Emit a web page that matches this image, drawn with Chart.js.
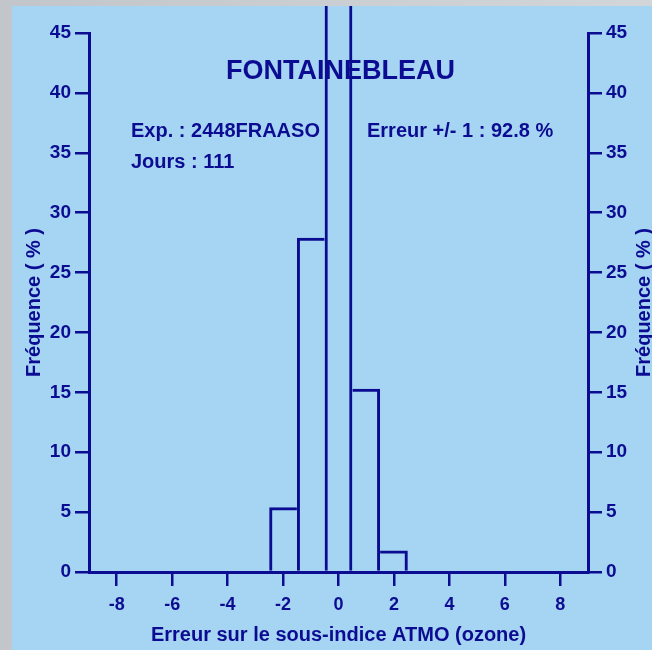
<!DOCTYPE html>
<html>
<head>
<meta charset="utf-8">
<title>FONTAINEBLEAU</title>
<script src="https://cdn.jsdelivr.net/npm/chart.js@4/dist/chart.umd.min.js"></script>
<style>
  html, body { margin: 0; padding: 0; }
  body {
    width: 652px;
    height: 650px;
    overflow: hidden;
    background: linear-gradient(90deg, #c2c6ca, #d3d6d9);
    position: relative;
  }
  #panel {
    position: absolute;
    left: 12px;
    top: 6px;
    width: 640px;
    height: 644px;
    background: #a5d5f2;
  }
</style>
</head>
<body>
<div id="panel"><canvas id="histo"></canvas></div>
<script>
// erreur sur le sous-indice et frequence (%)
const errClasses = [-2, -1, 0, 1, 2];
const frequences = [5.4, 27.9, 49.5, 15.3, 1.8];
const xTicks = [-8, -6, -4, -2, 0, 2, 4, 6, 8];
const yTicks = [0, 5, 10, 15, 20, 25, 30, 35, 40, 45];

const station = "FONTAINEBLEAU";
const infoExp = "Exp. : 2448FRAASO";
const infoErreur = "Erreur +/- 1 : 92.8 %";
const infoJours = "Jours : 111";
const yTitle = "Fréquence ( % )";
const xTitle = "Erreur sur le sous-indice ATMO (ozone)";

const navy = "#0c0c92";
const police = "'Liberation Sans', Arial, sans-serif";
const trait = 3;

Chart.defaults.font.family = police;
Chart.defaults.font.weight = "bold";
Chart.defaults.color = navy;

// un bord commun entre deux barres n'est trace qu'une fois, par la plus haute
function bords(c) {
  const i = c.dataIndex;
  const v = frequences[i];
  const avant = i > 0 ? frequences[i - 1] : -1;
  const apres = i < frequences.length - 1 ? frequences[i + 1] : -1;
  return {
    top: trait,
    bottom: 0,
    left: v >= avant ? trait : 0,
    right: v > apres ? trait : 0,
  };
}

// textes libres (titre, infos, titres des axes y)
const textes = {
  id: "textes",
  afterDraw(chart) {
    const ctx = chart.ctx;
    const area = chart.chartArea;
    const midY = (area.top + area.bottom) / 2;
    ctx.save();
    ctx.fillStyle = navy;
    ctx.textBaseline = "middle";

    ctx.font = "bold 27px " + police;
    ctx.textAlign = "center";
    ctx.fillText(station, (area.left + area.right) / 2 + 2, 66);

    ctx.font = "bold 20px " + police;
    ctx.textAlign = "left";
    ctx.fillText(infoExp, 119, 125);
    ctx.fillText(infoErreur, 355, 125);
    ctx.fillText(infoJours, 119, 156);

    ctx.textAlign = "center";
    ctx.translate(22, midY);
    ctx.rotate(-Math.PI / 2);
    ctx.fillText(yTitle, 0, 0);
    ctx.restore();

    ctx.save();
    ctx.fillStyle = navy;
    ctx.font = "bold 20px " + police;
    ctx.textAlign = "center";
    ctx.textBaseline = "middle";
    ctx.translate(632, midY);
    ctx.rotate(-Math.PI / 2);
    ctx.fillText(yTitle, 0, 0);
    ctx.restore();
  }
};

const axeY = (position, largeur) => ({
  type: "linear",
  position: position,
  min: 0,
  max: 45,
  afterBuildTicks: (scale) => { scale.ticks = yTicks.map(v => ({ value: v })); },
  afterFit: (scale) => { scale.width = largeur; },
  grid: {
    drawOnChartArea: false,
    drawTicks: true,
    tickLength: 14,
    color: navy,
    lineWidth: 2.5,
  },
  border: { display: true, color: navy, width: 3 },
  ticks: { padding: 4, font: { size: 19, weight: "bold" }, color: navy },
});

const histo = new Chart(document.getElementById("histo"), {
  type: "bar",
  data: {
    datasets: [
      {
        data: errClasses.map((x, i) => ({ x: x, y: frequences[i] })),
        backgroundColor: "rgba(0,0,0,0)",
        borderColor: navy,
        borderWidth: bords,
        borderSkipped: "start",
        inflateAmount: 0,
        barPercentage: 1,
        categoryPercentage: 1,
        clip: false,
        yAxisID: "y",
      },
    ],
  },
  options: {
    responsive: true,
    maintainAspectRatio: false,
    animation: false,
    layout: { padding: { top: 27, left: 0, right: 0, bottom: 0 } },
    plugins: {
      legend: { display: false },
      tooltip: { enabled: false },
    },
    scales: {
      x: {
        type: "linear",
        min: -9,
        max: 9,
        offset: false,
        afterBuildTicks: (scale) => { scale.ticks = xTicks.map(v => ({ value: v })); },
        afterFit: (scale) => { scale.height = 78; },
        grid: {
          offset: false,
          drawOnChartArea: false,
          drawTicks: true,
          tickLength: 14,
          color: navy,
          lineWidth: 2.5,
        },
        border: { display: true, color: navy, width: 3 },
        ticks: { padding: 8, font: { size: 18, weight: "bold" }, color: navy, maxRotation: 0 },
        title: {
          display: true,
          text: xTitle,
          color: navy,
          font: { size: 20, weight: "bold" },
          padding: { top: 0, bottom: 3 },
        },
      },
      y: axeY("left", 77),
      y2: axeY("right", 64),
    },
  },
  plugins: [textes],
});
</script>
</body>
</html>
